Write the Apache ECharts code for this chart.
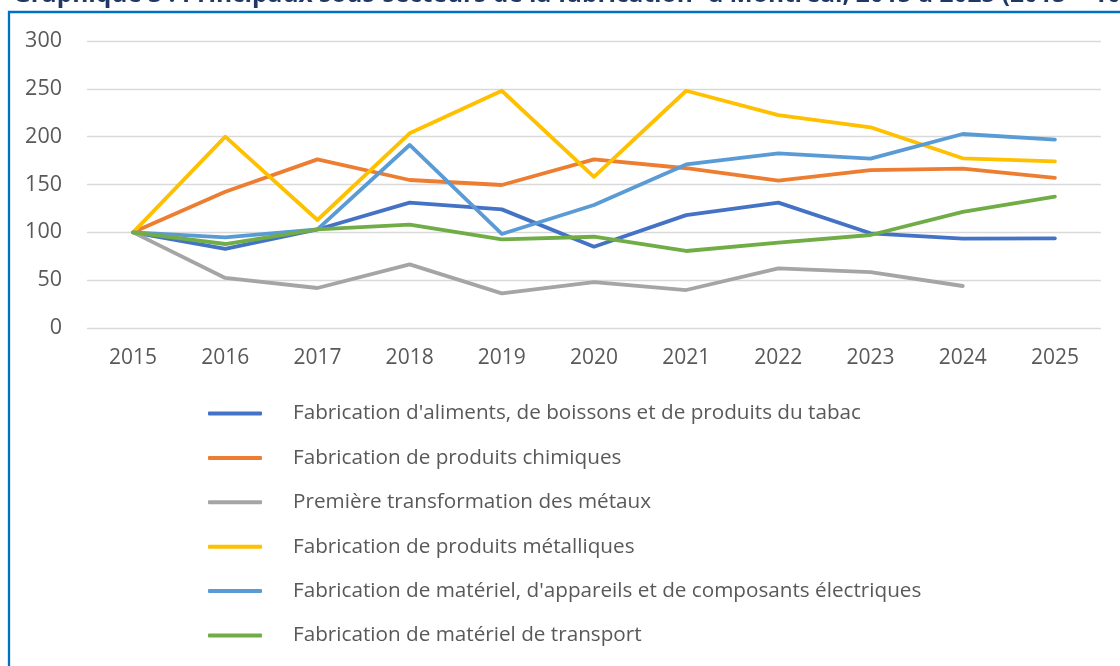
<!DOCTYPE html>
<html><head><meta charset="utf-8">
<script src="https://cdn.jsdelivr.net/npm/echarts@6/dist/echarts.min.js"></script>
<style>html,body{margin:0;padding:0;background:#fff}#c{width:1120px;height:666px}</style>
</head><body><div id="c"></div>
<script>
const years = ['2015','2016','2017','2018','2019','2020','2021','2022','2023','2024','2025'];
const seriesNames = [
  "Fabrication d'aliments, de boissons et de produits du tabac",
  "Fabrication de produits chimiques",
  "Première transformation des métaux",
  "Fabrication de produits métalliques",
  "Fabrication de matériel, d'appareils et de composants électriques",
  "Fabrication de matériel de transport"
];
const aliments   = [100, 82.6, 103, 131, 124, 85, 118, 131, 99, 93.4, 93.7];
const chimiques  = [100, 142.5, 176.3, 154.7, 149.5, 176.3, 167, 154, 165, 166.5, 157];
const metaux     = [100, 52.3, 41.8, 66.5, 36.2, 48, 39.7, 62.4, 58.5, 43.9, null];
const metalliques= [100, 200, 112.9, 203.5, 248, 158, 248, 222.6, 209.8, 177.4, 174.2];
const electriques= [100, 94.8, 103, 191.3, 98.3, 128.6, 171, 182.6, 177, 202.8, 196.9];
const transport  = [100, 87.8, 103, 108, 92.7, 95.4, 80.5, 89.2, 97.2, 121.3, 137.3];
const yTicks = [0, 50, 100, 150, 200, 250, 300];
const colors = ['#4472C4', '#ED7D31', '#A5A5A5', '#FFC000', '#5B9BD5', '#70AD47'];
const titleText = "Graphique 3 : Principaux sous-secteurs de la fabrication¹ à Montréal, 2015 à 2025 (2015 = 100)";

const allData = [aliments, chimiques, metaux, metalliques, electriques, transport];
const FONT = 'Open Sans';
const chart = echarts.init(document.getElementById('c'), null, {renderer: 'canvas'});
chart.setOption({
  animation: false,
  backgroundColor: '#fff',
  color: colors,
  title: {
    text: titleText, left: 8, top: -22,
    textStyle: {fontFamily: FONT, fontSize: 24.5, fontWeight: 'bold', color: '#1F3864'}
  },
  graphic: [{
    type: 'rect', shape: {x: 9, y: 12, width: 1200, height: 800},
    style: {fill: 'none', stroke: '#0070C0', lineWidth: 2.3}, silent: true, z: 100
  }],
  grid: {left: 87, right: 19, top: 41, bottom: 338, containLabel: false},
  xAxis: {
    type: 'category', data: years, boundaryGap: true,
    axisLine: {show: false}, axisTick: {show: false},
    axisLabel: {fontFamily: FONT, fontSize: 21, color: '#595959', margin: 20}
  },
  yAxis: {
    type: 'value', min: yTicks[0], max: yTicks[yTicks.length - 1], interval: 50,
    axisLine: {show: false}, axisTick: {show: false},
    axisLabel: {fontFamily: FONT, fontSize: 21.5, color: '#595959', margin: 25},
    splitLine: {lineStyle: {color: '#D9D9D9', width: 1.3}}
  },
  legend: {
    orient: 'vertical', left: 208, top: 401.5, padding: 0,
    icon: 'roundRect', itemWidth: 54, itemHeight: 4, itemGap: 20.4,
    textStyle: {fontFamily: FONT, fontSize: 20.7, color: '#595959', lineHeight: 24, padding: [0, 0, 0, 26]},
    data: seriesNames
  },
  series: seriesNames.map((n, i) => ({
    name: n, type: 'line', data: allData[i], symbol: 'none',
    lineStyle: {width: 3.8, cap: 'round', join: 'round'},
    connectNulls: false
  }))
});
</script></body></html>
